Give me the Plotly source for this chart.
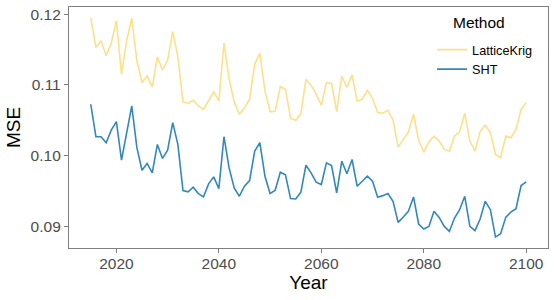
import plotly.graph_objects as go

years = list(range(2015, 2101))

lattice_krig = [
    0.1195, 0.11533, 0.11627, 0.11414, 0.1159, 0.11912, 0.11154, 0.11627, 0.11946, 0.11343,
    0.11036, 0.1113, 0.10973, 0.114, 0.1121, 0.11353, 0.11755, 0.11395, 0.1076, 0.10741,
    0.10784, 0.10703, 0.10656, 0.10774, 0.10902, 0.10774, 0.11595, 0.11083, 0.1076, 0.10585,
    0.1068, 0.10798, 0.11296, 0.11448, 0.10916, 0.10623, 0.10627, 0.10979, 0.1094, 0.10528,
    0.10499, 0.10589, 0.11078, 0.10997, 0.10869, 0.10713, 0.11036, 0.11021, 0.10623, 0.11121,
    0.10964, 0.11144, 0.10774, 0.10798, 0.1093, 0.10808, 0.10609, 0.10599, 0.10642, 0.10504,
    0.1012, 0.10229, 0.10333, 0.10585, 0.10215, 0.10048, 0.10191, 0.10276, 0.10205, 0.10087,
    0.10063, 0.10276, 0.10339, 0.10599, 0.10205, 0.10063, 0.10339, 0.10432, 0.10324, 0.10016,
    0.09969, 0.10276, 0.10253, 0.10371, 0.10656, 0.10751,
]

sht = [
    0.10727, 0.10267, 0.10267, 0.10182, 0.10361, 0.10481, 0.09935, 0.103, 0.10703, 0.10111,
    0.09792, 0.09888, 0.09755, 0.10158, 0.09959, 0.10077, 0.10466, 0.10158, 0.09504, 0.09485,
    0.09551, 0.09461, 0.09414, 0.09599, 0.09698, 0.09532, 0.10267, 0.09826, 0.09541, 0.09423,
    0.09565, 0.09646, 0.10063, 0.10182, 0.09707, 0.09461, 0.09508, 0.09764, 0.09727, 0.0939,
    0.09385, 0.09479, 0.09863, 0.09755, 0.09622, 0.09589, 0.09897, 0.09859, 0.09471, 0.0992,
    0.09741, 0.09944, 0.09565, 0.09636, 0.09707, 0.09636, 0.09408, 0.09432, 0.09461, 0.09351,
    0.09053, 0.09129, 0.0921, 0.09414, 0.0903, 0.08959, 0.08994, 0.0921, 0.09124, 0.08996,
    0.08925, 0.09115, 0.09233, 0.09423, 0.08996, 0.08935, 0.09101, 0.09351, 0.09233, 0.08845,
    0.08892, 0.09124, 0.092, 0.09247, 0.09575, 0.09627,
]

series_names = ["LatticeKrig", "SHT"]
series_colors = ["#FEE08B", "#3288BD"]
x_ticks = [2020, 2040, 2060, 2080, 2100]
y_ticks = [0.09, 0.10, 0.11, 0.12]
legend_title = "Method"

fig = go.Figure()
for name, vals, col in zip(series_names, [lattice_krig, sht], series_colors):
    fig.add_trace(go.Scatter(x=years, y=vals, mode="lines", name=name,
                             line=dict(color=col, width=1.6)))

xmin, xmax = min(years), max(years)
xpad = 0.05 * (xmax - xmin)
allv = lattice_krig + sht
ymin, ymax = min(allv), max(allv)
ypad = 0.05 * (ymax - ymin)

font_family = "Liberation Sans, Arial, sans-serif"
axis_common = dict(
    showline=True, mirror=True, linecolor="#7F7F7F", linewidth=1.3,
    showgrid=False, zeroline=False, ticks="outside", ticklen=4,
    tickcolor="#7F7F7F", tickwidth=1.1, automargin=False,
    tickfont=dict(family=font_family, size=15.5, color="#4D4D4D"),
)

fig.update_layout(
    width=554, height=300,
    margin=dict(l=69, r=6, t=7, b=52),
    paper_bgcolor="white", plot_bgcolor="white",
    font=dict(family=font_family),
    xaxis=dict(range=[xmin - xpad, xmax + xpad], tickvals=x_ticks,
               ticklabelstandoff=-3,
               title=dict(text="Year", font=dict(size=19, color="black"), standoff=4),
               **axis_common),
    yaxis=dict(range=[ymin - ypad, ymax + ypad], tickvals=y_ticks, tickformat=".2f",
               title=dict(text="MSE", font=dict(size=19, color="black"), standoff=4),
               **axis_common),
    legend=dict(x=0.758, y=0.8845, xanchor="left", yanchor="top",
                bgcolor="rgba(255,255,255,0)",
                font=dict(size=12.7, color="black"),
                tracegroupgap=0, itemwidth=30),
    showlegend=True,
    annotations=[dict(text=legend_title, xref="paper", yref="paper",
                      x=0.7975, y=0.934, xanchor="left", yanchor="middle",
                      showarrow=False,
                      font=dict(family=font_family, size=15.5, color="black"))],
)

fig.write_html("out.html", config={"displayModeBar": False},
               post_script="document.body.style.margin='0';document.body.style.overflow='hidden';")
